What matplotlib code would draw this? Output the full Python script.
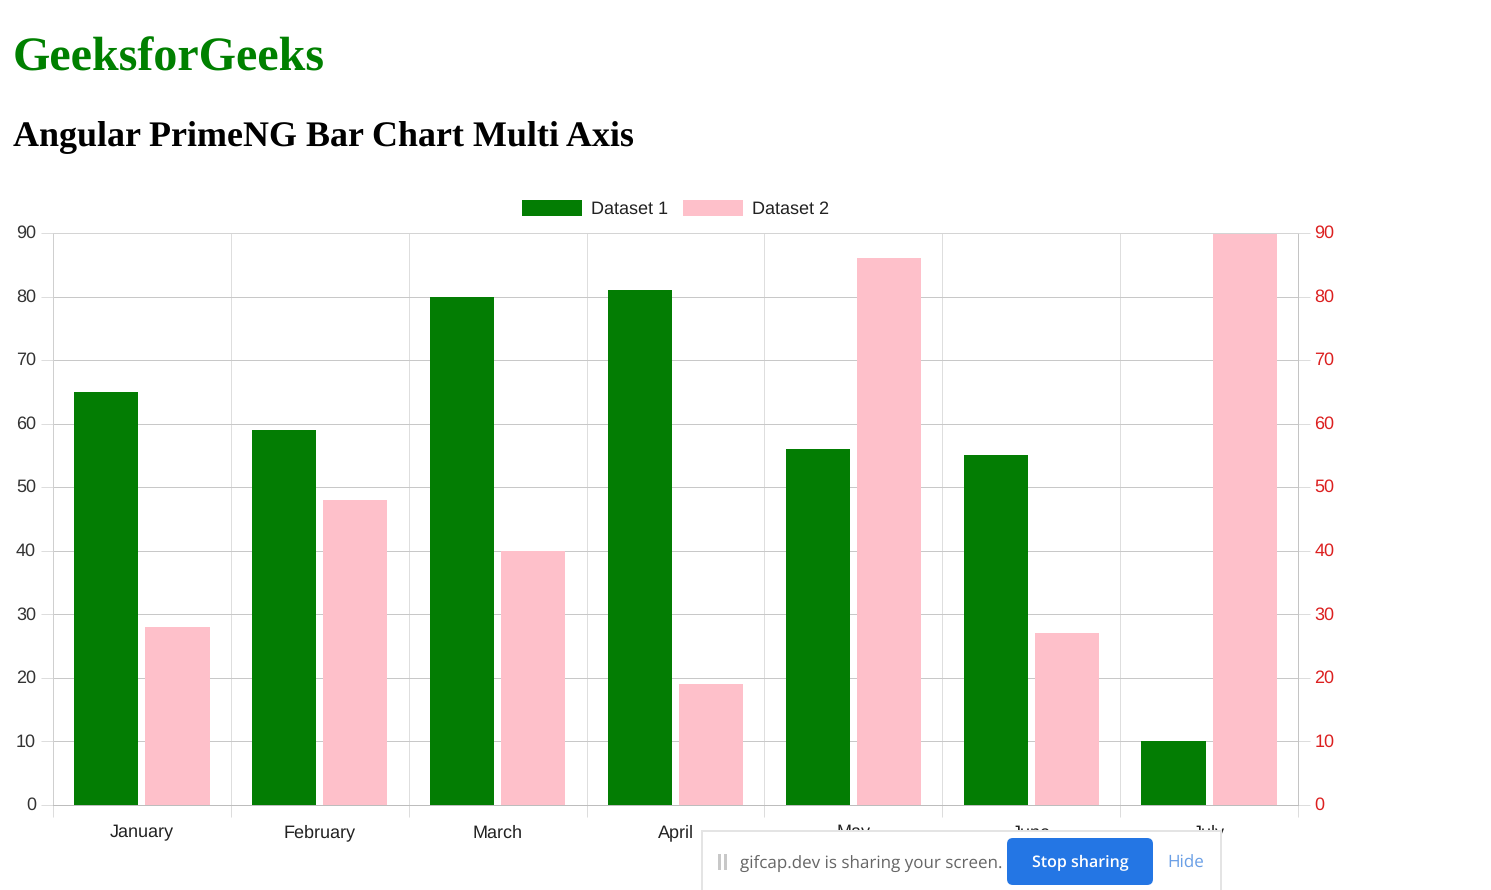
import numpy as np
import matplotlib
matplotlib.use('Agg')
import matplotlib.pyplot as plt
from matplotlib.patches import FancyBboxPatch, Rectangle
from matplotlib.transforms import ScaledTranslation

# values
months = ['January', 'February', 'March', 'April', 'May', 'June', 'July']
dataset1 = [65, 59, 80, 81, 56, 55, 10]
dataset2 = [28, 48, 40, 19, 86, 27, 90]
y_ticks = [0, 10, 20, 30, 40, 50, 60, 70, 80, 90]

W, H = 1491, 890
plt.rcParams['font.family'] = ['Liberation Sans', 'DejaVu Sans']
plt.rcParams['text.hinting'] = 'no_hinting'
plt.rcParams['text.hinting_factor'] = 1

fig = plt.figure(figsize=(W / 100, H / 100), dpi=100, facecolor='white')


def px(v):
    # css pixels to points
    return v * 0.72


# plot area in pixels
left, right, top, bottom = 53, 1298, 233, 805
ax = fig.add_axes([left / W, 1 - bottom / H, (right - left) / W, (bottom - top) / H])
ax2 = ax.twinx()

x = np.arange(len(months))
bars1 = ax.bar(x - 0.2, dataset1, width=0.36, color='#037d03', label='Dataset 1', zorder=3)
bars2 = ax.bar(x + 0.2, dataset2, width=0.36, color='#fec0ca', label='Dataset 2', zorder=3)

ax.set_xlim(-0.5, len(months) - 0.5)
ax.set_ylim(0, 90)
ax2.set_ylim(0, 90)

ax.set_yticks(y_ticks)
ax2.set_yticks(y_ticks)
ax.set_xticks(x)
ax.set_xticklabels(months, va='baseline')
ax.set_xticks(np.arange(len(months) + 1) - 0.5, minor=True)

ax.grid(axis='y', color='#c8c8c8', linewidth=px(1), zorder=0)
ax.grid(axis='x', which='minor', color='#dedede', linewidth=px(1), zorder=0)
ax.set_axisbelow(True)

ax.tick_params(axis='x', which='major', length=0, pad=px(32.6), labelsize=px(18), labelcolor='#222222')
ax.tick_params(axis='x', which='minor', length=px(12), width=px(1), color='#dddddd')
ax.tick_params(axis='y', length=px(12), width=px(1), color='#dddddd', pad=px(5),
               labelsize=px(18.5), labelcolor='#333333')
ax2.tick_params(axis='y', length=px(12), width=px(1), color='#dddddd', pad=px(4.5),
                labelsize=px(18.5), labelcolor='#dc2020')

# y labels sit a little above their grid lines
nudge = ScaledTranslation(0, px(1.5) / 72, fig.dpi_scale_trans)
for a in (ax, ax2):
    for lab in a.get_yticklabels():
        lab.set_transform(lab.get_transform() + nudge)
    a.spines['top'].set_color('#d4d4d4')
    a.spines['left'].set_color('#cfcfcf')
    a.spines['right'].set_color('#c4c4c4')
    a.spines['bottom'].set_color('#bdbdbd')
    for s in a.spines.values():
        s.set_linewidth(px(1))

fig.legend(handles=[bars1, bars2], loc='center', bbox_to_anchor=(675.5 / W, 1 - 209 / H),
           ncol=2, frameon=False, fontsize=px(18), handlelength=3.33, handleheight=1.0,
           handletextpad=0.5, columnspacing=0.85, labelcolor='#222222')

# page headings
fig.text(13 / W, 1 - 59 / H, 'GeeksforGeeks', color='#008000', family='Liberation Serif',
         weight='bold', fontsize=px(48), va='center', ha='left')
fig.text(13 / W, 1 - 138 / H, 'Angular PrimeNG Bar Chart Multi Axis', color='black',
         family='Liberation Serif', weight='bold', fontsize=px(36), va='center', ha='left')

# screen sharing popup on top of the page, pixel coordinates
over = fig.add_axes([0, 0, 1, 1], zorder=10)
over.set_xlim(0, W)
over.set_ylim(H, 0)
over.axis('off')
over.patch.set_alpha(0)
over.add_patch(Rectangle((702, 831), 519, 70, facecolor='white', edgecolor='#e4e4e4', linewidth=px(2)))
over.add_patch(Rectangle((718, 854), 3, 16, facecolor='#c8c8c8', edgecolor='none'))
over.add_patch(Rectangle((724, 854), 3, 16, facecolor='#c8c8c8', edgecolor='none'))
over.text(740, 863, 'gifcap.dev is sharing your screen.', color='#666666',
          family='Open Sans', fontsize=px(16.6), va='center', ha='left')
over.add_patch(FancyBboxPatch((1011, 842), 138, 39, boxstyle='round,pad=4,rounding_size=6',
                              facecolor='#2476e4', edgecolor='none', mutation_aspect=1))
over.text(1080, 863, 'Stop sharing', color='white', family='Open Sans', weight='semibold',
          fontsize=px(16.2), va='center', ha='center')
over.text(1186, 863, 'Hide', color='#6a9fe6', family='Open Sans', fontsize=px(17),
          va='center', ha='center')

plt.savefig('out.png', dpi=100)
